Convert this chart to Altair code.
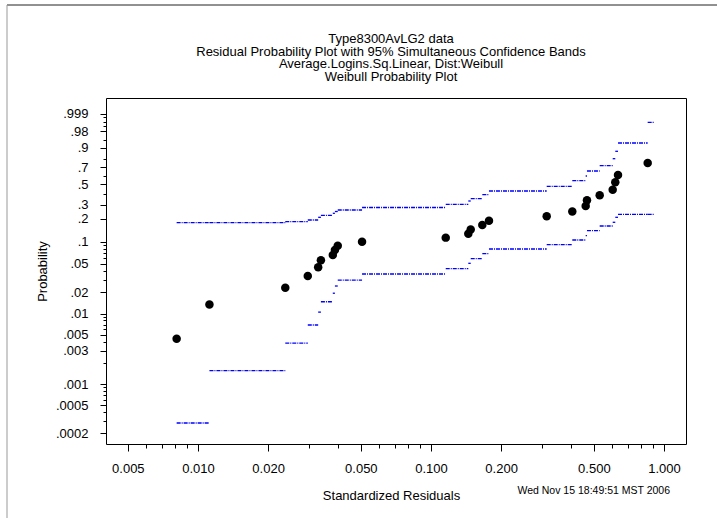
import math

import altair as alt
import pandas as pd

# Standardized residuals (sorted) and their plotting-position probabilities
resid = [0.0081, 0.0112, 0.0237, 0.0296, 0.0328, 0.0337, 0.0379, 0.0387,
         0.0398, 0.0506, 0.1157, 0.1446, 0.1481, 0.1661, 0.1774, 0.3138,
         0.4041, 0.4612, 0.4672, 0.5297, 0.6024, 0.6180, 0.6349, 0.8511]
prob = [0.0044, 0.0135, 0.0232, 0.0338, 0.0447, 0.0559, 0.0662, 0.0775,
        0.0887, 0.1003, 0.1138, 0.1284, 0.1462, 0.1668, 0.1898, 0.2152,
        0.2478, 0.2885, 0.3360, 0.3830, 0.4400, 0.5240, 0.6100, 0.7510]

# 95% simultaneous confidence bands: one step per residual
band_hi = [0.1788, 0.1788, 0.1841, 0.1935, 0.2094, 0.2220, 0.2350, 0.2473,
           0.2580, 0.2767, 0.3021, 0.3301, 0.3508, 0.3888, 0.4264, 0.4770,
           0.5410, 0.5967, 0.6568, 0.7197, 0.7980, 0.8697, 0.9310, 0.9948]
band_lo = [0.00028, 0.00155, 0.00383, 0.0069, 0.0105, 0.0147, 0.0194, 0.0245,
           0.0297, 0.0361, 0.0428, 0.0508, 0.0588, 0.0689, 0.0799, 0.0914,
           0.1058, 0.1208, 0.1407, 0.1621, 0.1809, 0.2094, 0.2284, 0.2284]
band_last_end = 0.906

# Axis tick labels
x_major = [0.005, 0.01, 0.02, 0.05, 0.1, 0.2, 0.5, 1.0]
y_major_p = [0.0002, 0.0005, 0.001, 0.003, 0.005, 0.01, 0.02, 0.05,
             0.1, 0.2, 0.3, 0.5, 0.7, 0.9, 0.98, 0.999]
y_labels = [".0002", ".0005", ".001", ".003", ".005", ".01", ".02", ".05",
            ".1", ".2", ".3", ".5", ".7", ".9", ".98", ".999"]
y_minor_p = ([m / 10000 for m in range(2, 10)] + [m / 1000 for m in range(1, 10)]
             + [m / 100 for m in range(1, 10)] + [m / 10 for m in range(1, 10)]
             + [0.95, 0.99, 0.995, 0.998])

date_stamp = ["Wed Nov 15 18:49:51 MST 2006"]
title_lines = ["Type8300AvLG2 data",
               "Residual Probability Plot with 95% Simultaneous Confidence Bands",
               "Average.Logins.Sq.Linear, Dist:Weibull",
               "Weibull Probability Plot"]

FONT = "Liberation Sans"


def weibull(p):
    """Weibull probability-paper coordinate: log(-log(1 - p))."""
    return math.log(-math.log1p(-p))


X_DOMAIN = [0.00403, 1.243]
Y_DOMAIN = [-8.867, 2.456]

x_ticks = sorted({round(m * 10.0 ** e, 6) for e in (-3, -2, -1) for m in range(1, 10)
                  if m * 10.0 ** e >= X_DOMAIN[0]} | {1.0})
y_major_t = [weibull(p) for p in y_major_p]
y_ticks = sorted(set(y_major_t) | {weibull(p) for p in y_minor_p})

x_is_major = f"indexof({x_major}, datum.value) >= 0"
y_is_major = f"indexof({y_major_t}, datum.value) >= 0"

x_axis = alt.Axis(
    title="Standardized Residuals", values=x_ticks,
    labelExpr=f"{x_is_major} ? format(datum.value, '.3f') : ''",
    tickSize={"condition": {"test": x_is_major, "value": 7}, "value": 4},
    labelPadding=11, titlePadding=14, titleX=285, labelOverlap=False,
    labelFlush=False, grid=False, domain=False, titleFontWeight="normal",
)
y_axis = alt.Axis(
    title="Probability", values=y_ticks,
    labelExpr=f"{y_is_major} ? {y_labels}[indexof({y_major_t}, datum.value)] : ''",
    tickSize={"condition": {"test": y_is_major, "value": 6}, "value": 3},
    labelPadding=12, titlePadding=6, labelOverlap=False, labelFlush=False,
    grid=False, domain=False, titleFontWeight="normal",
)
x_scale = alt.Scale(type="log", domain=X_DOMAIN, nice=False)
y_scale = alt.Scale(domain=Y_DOMAIN, nice=False, zero=False)


def xq(field):
    return alt.X(f"{field}:Q", scale=x_scale, axis=x_axis)


def yq(field):
    return alt.Y(f"{field}:Q", scale=y_scale, axis=y_axis)


points_df = pd.DataFrame({"resid": resid, "prob": prob})
band_df = pd.DataFrame({"x0": resid, "x1": resid[1:] + [band_last_end],
                        "lo": band_lo, "hi": band_hi})

band_style = dict(color="#0000ff", strokeWidth=1.3, strokeDash=[4, 1, 1, 1])

upper = alt.Chart(band_df).transform_calculate(
    t="log(-log(1 - datum.hi))"
).mark_rule(**band_style).encode(x=xq("x0"), x2="x1", y=yq("t"))

lower = alt.Chart(band_df).transform_calculate(
    t="log(-log(1 - datum.lo))"
).mark_rule(**band_style).encode(x=xq("x0"), x2="x1", y=yq("t"))

points = alt.Chart(points_df).transform_calculate(
    t="log(-log(1 - datum.prob))"
).mark_circle(size=72, color="black", opacity=1).encode(x=xq("resid"), y=yq("t"))

stamp = alt.Chart(pd.DataFrame({"label": date_stamp})).mark_text(
    align="right", baseline="middle", font=FONT, fontSize=10.5, color="black"
).encode(x=alt.value(564), y=alt.value(393), text="label:N")

# four-line heading above the plot frame
heading = alt.Chart(pd.DataFrame({"label": ["\n".join(title_lines)]})).mark_text(
    align="center", baseline="top", font=FONT, fontSize=13, color="black",
    lineBreak="\n", lineHeight=12.5,
).encode(x=alt.value(285), y=alt.value(-65), text="label:N")

# page frame lines along the top and left edges
frame_top = alt.Chart().mark_rule(color="#222222", strokeWidth=1).encode(
    x=alt.value(-99), x2=alt.value(611), y=alt.value(-93))
frame_left = alt.Chart().mark_rule(color="#999999", strokeWidth=1).encode(
    x=alt.value(-99), y=alt.value(-93), y2=alt.value(420))

chart = alt.layer(lower, upper, points, stamp, heading, frame_top, frame_left).properties(
    width=580, height=346,
    background="white",
    autosize=alt.AutoSizeParams(type="none"),
    padding={"left": 106, "top": 98, "right": 31, "bottom": 74},
).configure_view(
    stroke="black", strokeWidth=1
).configure_axis(
    labelFont=FONT, labelFontSize=13, labelColor="black",
    titleFont=FONT, titleFontSize=13, titleFontWeight="normal", titleColor="black",
    tickColor="black", tickWidth=1,
)

chart.save("out.html", embed_options={"renderer": "svg", "actions": False})
